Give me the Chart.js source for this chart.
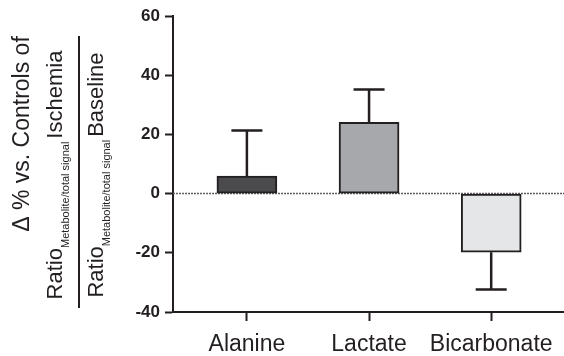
<!DOCTYPE html>
<html>
<head>
<meta charset="utf-8">
<script src="https://cdn.jsdelivr.net/npm/chart.js@4"></script>
<style>
  html, body { margin: 0; padding: 0; background: #fff; }
</style>
</head>
<body>
<canvas id="myChart" width="564" height="356"></canvas>
<script>
// values (% change vs controls)
var metabolites = ['Alanine', 'Lactate', 'Bicarbonate']
var means = [5.9, 24.1, -19.8]
var sems = [15.4, 11.1, 12.6]
var barcolors = ['#4b4b4d', '#a7a8ab', '#e5e6e7']
var yticks = [60, 40, 20, 0, -20, -40]

const ink = '#231f20'
const fam = '"Liberation Sans", Arial, sans-serif'

const errorBars = {
    id: 'errorBars',
    beforeDatasetsDraw: chart => {
        // dotted zero line
        let ctx = chart.ctx
        let yAxis = chart.scales.y
        let area = chart.chartArea
        let y0 = yAxis.getPixelForValue(0)
        ctx.save()
        ctx.beginPath()
        ctx.setLineDash([2, 1])
        ctx.moveTo(area.left, y0)
        ctx.lineTo(area.right, y0)
        ctx.lineWidth = 1.5
        ctx.strokeStyle = '#5f5f61'
        ctx.stroke()
        ctx.restore()
    },
    afterDatasetsDraw: chart => {
        let ctx = chart.ctx
        let xAxis = chart.scales.x
        let yAxis = chart.scales.y
        ctx.save()
        ctx.strokeStyle = ink
        ctx.lineWidth = 2.5
        for (let i = 0; i < means.length; i++) {
            let sign = means[i] < 0 ? -1 : 1
            let x = xAxis.getPixelForValue(i)
            let ya = yAxis.getPixelForValue(means[i])
            let yb = yAxis.getPixelForValue(means[i] + sign * sems[i])
            ctx.beginPath()
            ctx.moveTo(x, ya)
            ctx.lineTo(x, yb)
            ctx.moveTo(x - 15.5, yb)
            ctx.lineTo(x + 15.5, yb)
            ctx.stroke()
        }
        ctx.restore()
    }
}

// rotated y title: "Δ % vs. Controls of" over a fraction of two ratios
const yTitle = {
    id: 'yTitle',
    afterDraw: chart => {
        let ctx = chart.ctx
        ctx.save()
        ctx.fillStyle = ink
        ctx.textBaseline = 'alphabetic'

        ctx.save()
        ctx.translate(28.5, 134)
        ctx.rotate(-Math.PI / 2)
        ctx.font = '23px ' + fam
        ctx.textAlign = 'center'
        ctx.fillText('\u0394 % vs. Controls of', 0, 0)
        ctx.restore()

        function ratio(xBase, word) {
            ctx.save()
            ctx.font = '22px ' + fam
            let w1 = ctx.measureText('Ratio').width
            let w3 = ctx.measureText(word).width
            ctx.font = '11px ' + fam
            let w2 = ctx.measureText('Metabolite/total signal').width
            let gap = 3
            let total = w1 + w2 + gap + w3
            ctx.translate(xBase, 175 + total / 2)
            ctx.rotate(-Math.PI / 2)
            ctx.textAlign = 'left'
            ctx.font = '22px ' + fam
            ctx.fillText('Ratio', 0, 0)
            ctx.font = '11px ' + fam
            ctx.fillText('Metabolite/total signal', w1, 7)
            ctx.font = '22px ' + fam
            ctx.fillText(word, w1 + w2 + gap, 0)
            ctx.restore()
        }
        ratio(61.5, 'Ischemia')
        ratio(103, 'Baseline')

        ctx.beginPath()
        ctx.moveTo(79, 36)
        ctx.lineTo(79, 308)
        ctx.lineWidth = 2
        ctx.strokeStyle = ink
        ctx.stroke()
        ctx.restore()
    }
}

const ctx = document.getElementById('myChart')
new Chart(ctx, {
    type: 'bar',
    data: {
        datasets: [{
            data: means.map((v, i) => ({x: i, y: v})),
            backgroundColor: barcolors,
            borderColor: ink,
            borderWidth: 2,
            borderSkipped: false,
            barThickness: 60
        }]
    },
    options: {
        responsive: false,
        animation: false,
        events: [],
        layout: {
            padding: {top: 16, right: 0, left: 0, bottom: 0}
        },
        scales: {
            x: {
                type: 'linear',
                offset: false,
                min: -0.605,
                max: 2.596,
                afterBuildTicks: axis => {
                    axis.ticks = metabolites.map((m, i) => ({value: i}))
                },
                afterFit: axis => { axis.height = 44 },
                grid: {
                    offset: false,
                    drawOnChartArea: false,
                    tickLength: 9,
                    tickWidth: 2,
                    tickColor: ink
                },
                border: {color: ink, width: 2},
                ticks: {
                    color: ink,
                    padding: 10,
                    maxRotation: 0,
                    autoSkip: false,
                    font: {family: fam, size: 23},
                    callback: function (value) {
                        return metabolites[value]
                    }
                }
            },
            y: {
                min: -40,
                max: 60,
                afterBuildTicks: axis => {
                    axis.ticks = yticks.map(v => ({value: v}))
                },
                afterFit: axis => { axis.width = 173 },
                grid: {
                    drawOnChartArea: false,
                    tickLength: 8,
                    tickWidth: 2,
                    tickColor: ink
                },
                border: {color: ink, width: 2},
                ticks: {
                    color: ink,
                    padding: 5,
                    font: {family: fam, size: 17, weight: 'bold'}
                }
            }
        },
        plugins: {
            legend: {display: false},
            tooltip: {enabled: false}
        }
    },
    plugins: [errorBars, yTitle]
})
</script>
</body>
</html>
